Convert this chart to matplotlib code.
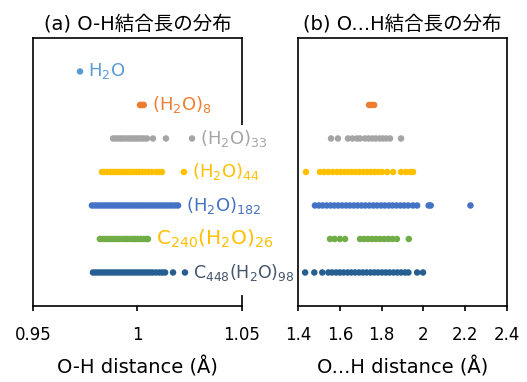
import matplotlib
matplotlib.use('Agg')
import matplotlib.pyplot as plt
from matplotlib.patches import Rectangle
from matplotlib.ticker import FuncFormatter

plt.rcParams['font.family'] = ['DejaVu Sans', 'Noto Sans CJK JP']

# 系の名前（上から順）
names = ['$\\mathregular{H_2O}$',
         '$\\mathregular{(H_2O)_8}$',
         '$\\mathregular{(H_2O)_{33}}$',
         '$\\mathregular{(H_2O)_{44}}$',
         '$\\mathregular{(H_2O)_{182}}$',
         '$\\mathregular{C_{240}(H_2O)_{26}}$',
         '$\\mathregular{C_{448}(H_2O)_{98}}$']
colors = ['#5B9BD5', '#ED7D31', '#A5A5A5', '#FFC000', '#4472C4', '#70AD47', '#255E91']
label_colors = ['#5B9BD5', '#ED7D31', '#A5A5A5', '#FFC000', '#4472C4', '#FFC000', '#44546A']
label_sizes = [13, 13, 13, 13, 13, 14.5, 12.5]
rows = [7, 6, 5, 4, 3, 2, 1]

# O-H 結合長 (Å)
oh_h2o = [0.9725]
oh_w8 = [1.0012, 1.0018, 1.0024, 1.0030]
oh_w33 = [0.9883, 0.9895, 0.9908, 0.9920, 0.9931, 0.9945, 0.9958, 0.9969, 0.9982,
          0.9994, 1.0006, 1.0019, 1.0031, 1.0045, 1.0074, 1.0136, 1.0261]
oh_w44 = [0.9830, 0.9842, 0.9855, 0.9868, 0.9880, 0.9893, 0.9905, 0.9918, 0.9931,
          0.9944, 0.9956, 0.9969, 0.9982, 0.9995, 1.0008, 1.0021, 1.0036, 1.0052,
          1.0068, 1.0090, 1.0104, 1.0117, 1.0222]
oh_w182 = [0.9782, 0.9795, 0.9807, 0.9820, 0.9833, 0.9846, 0.9858, 0.9871, 0.9884,
           0.9897, 0.9909, 0.9922, 0.9935, 0.9948, 0.9960, 0.9973, 0.9986, 0.9999,
           1.0011, 1.0024, 1.0037, 1.0050, 1.0063, 1.0076, 1.0089, 1.0102, 1.0115,
           1.0128, 1.0141, 1.0154, 1.0167, 1.0181, 1.0194]
oh_c240 = [0.9820, 0.9833, 0.9846, 0.9859, 0.9872, 0.9885, 0.9898, 0.9911, 0.9924,
           0.9938, 0.9951, 0.9964, 0.9977, 0.9990, 1.0003, 1.0016, 1.0029, 1.0042, 1.0050]
oh_c448 = [0.9787, 0.9800, 0.9813, 0.9826, 0.9839, 0.9852, 0.9865, 0.9878, 0.9891,
           0.9904, 0.9917, 0.9930, 0.9943, 0.9956, 0.9969, 0.9982, 0.9995, 1.0008,
           1.0021, 1.0034, 1.0047, 1.0060, 1.0073, 1.0088, 1.0104, 1.0118, 1.0132,
           1.0170, 1.0227]
oh_data = [oh_h2o, oh_w8, oh_w33, oh_w44, oh_w182, oh_c240, oh_c448]

# O...H 結合長 (Å)
hb_h2o = []
hb_w8 = [1.740, 1.752, 1.764]
hb_w33 = [1.558, 1.591, 1.639, 1.660, 1.682, 1.697, 1.720, 1.738, 1.756, 1.772,
          1.790, 1.806, 1.822, 1.840, 1.893]
hb_w44 = [1.438, 1.505, 1.525, 1.545, 1.565, 1.585, 1.603, 1.622, 1.640, 1.658,
          1.676, 1.694, 1.712, 1.730, 1.748, 1.766, 1.784, 1.802, 1.826, 1.855,
          1.893, 1.916, 1.936, 1.950]
hb_w182 = [1.481, 1.500, 1.518, 1.537, 1.556, 1.574, 1.592, 1.611, 1.630, 1.648,
           1.667, 1.685, 1.704, 1.722, 1.741, 1.760, 1.778, 1.797, 1.815, 1.834,
           1.852, 1.871, 1.890, 1.908, 1.927, 1.950, 1.970, 2.025, 2.035, 2.225]
hb_c240 = [1.553, 1.575, 1.600, 1.625, 1.697, 1.716, 1.735, 1.754, 1.773, 1.792,
           1.812, 1.832, 1.852, 1.873, 1.930]
hb_c448 = [1.434, 1.478, 1.516, 1.545, 1.563, 1.582, 1.600, 1.618, 1.637, 1.655,
           1.673, 1.692, 1.710, 1.728, 1.747, 1.765, 1.783, 1.802, 1.820, 1.838,
           1.857, 1.875, 1.893, 1.912, 1.928, 1.970, 1.998]
hb_data = [hb_h2o, hb_w8, hb_w33, hb_w44, hb_w182, hb_c240, hb_c448]

fig = plt.figure(figsize=(5.27, 3.82), dpi=100)
ax1 = fig.add_axes([0.0626, 0.199, 0.3966, 0.7016])
ax2 = fig.add_axes([0.5655, 0.199, 0.3966, 0.7016])

fmt = FuncFormatter(lambda v, p: '%g' % round(v, 2))

for ax in (ax1, ax2):
    ax.set_ylim(0, 8)
    ax.set_yticks([])
    for s in ax.spines.values():
        s.set_linewidth(1.2)
        s.set_color('black')
    ax.tick_params(axis='x', direction='out', length=3.6, width=1.2, labelsize=12, pad=11)
    ax.xaxis.set_major_formatter(fmt)

for vals, y, c in zip(oh_data, rows, colors):
    ax1.scatter(vals, [y] * len(vals), s=22, color=c, edgecolors='none', zorder=3)
for vals, y, c in zip(hb_data, rows, colors):
    if vals:
        ax2.scatter(vals, [y] * len(vals), s=22, color=c, edgecolors='none', zorder=3)

# ラベル欄の白い背景（右側の枠線を隠す）
ax1.add_patch(Rectangle((0.82, 0.04), 0.42, 0.635, transform=ax1.transAxes,
                        facecolor='white', edgecolor='none', clip_on=False, zorder=4))

# 系の名前を各列の右端に
for vals, y, name, lc, fs in zip(oh_data, rows, names, label_colors, label_sizes):
    ax1.annotate(name, (max(vals), y), xytext=(6, 0), textcoords='offset points',
                 ha='left', va='center', color=lc, fontsize=fs,
                 annotation_clip=False, zorder=5)

ax1.set_xlim(0.95, 1.05)
ax1.set_xticks([0.95, 1.0, 1.05])
ax2.set_xlim(1.4, 2.4)
ax2.set_xticks([1.4, 1.6, 1.8, 2.0, 2.2, 2.4])

ax1.set_title('(a) O-H結合長の分布', fontsize=14, pad=6)
ax2.set_title('(b) O...H結合長の分布', fontsize=14, pad=6)
ax1.set_xlabel('O-H distance (Å)', fontsize=14, labelpad=9)
ax2.set_xlabel('O...H distance (Å)', fontsize=14, labelpad=9)

fig.savefig('out.png', dpi=100)
